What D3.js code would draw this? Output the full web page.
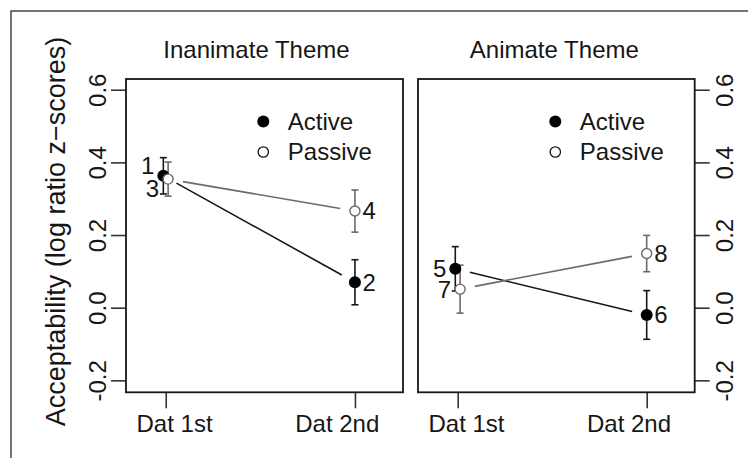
<!DOCTYPE html>
<html><head><meta charset="utf-8">
<script src="https://cdn.jsdelivr.net/npm/d3@7"></script>
<style>
html,body{margin:0;padding:0;background:#fff;}
svg{display:block;font-family:"Liberation Sans",Arial,Helvetica,sans-serif;}
</style></head>
<body>
<svg id="chart" width="748" height="458"></svg>
<script>
// ---------- data ----------
const categories = ["Dat 1st", "Dat 2nd"];
const panelTitles = ["Inanimate Theme", "Animate Theme"];
const seriesNames = ["Active", "Passive"];
const yTicks = [-0.2, 0.0, 0.2, 0.4, 0.6];

const inanimateActive = [0.363, 0.070];
const inanimateActiveSE = [0.050, 0.062];
const inanimatePassive = [0.354, 0.266];
const inanimatePassiveSE = [0.047, 0.058];
const animateActive = [0.107, -0.020];
const animateActiveSE = [0.061, 0.067];
const animatePassive = [0.051, 0.149];
const animatePassiveSE = [0.066, 0.050];

const inanimateActiveLabels = ["1", "2"];
const inanimatePassiveLabels = ["3", "4"];
const animateActiveLabels = ["5", "6"];
const animatePassiveLabels = ["7", "8"];

// ---------- layout ----------
(function () {
const svg = d3.select("#chart");
const plotTop = 79, plotBottom = 392.3;
const panelsBox = [{l: 126, r: 403}, {l: 418, r: 694.7}];
const titleShift = [-8, -2];
const y = d3.scaleLinear().domain([-0.2329, 0.6295]).range([plotBottom, plotTop]);
const ink = "#161616";
const gray = "#6a6a6a";

// outer frame
svg.append("rect").attr("x", 11).attr("y", 11).attr("width", 800).attr("height", 500)
  .attr("fill", "none").attr("stroke", "#3a3a3a").attr("stroke-width", 1.4);

const panels = [
  {title: panelTitles[0],
   series: [
     {name: seriesNames[0], vals: inanimateActive, se: inanimateActiveSE, labels: inanimateActiveLabels},
     {name: seriesNames[1], vals: inanimatePassive, se: inanimatePassiveSE, labels: inanimatePassiveLabels}]},
  {title: panelTitles[1],
   series: [
     {name: seriesNames[0], vals: animateActive, se: animateActiveSE, labels: animateActiveLabels},
     {name: seriesNames[1], vals: animatePassive, se: animatePassiveSE, labels: animatePassiveLabels}]}
];

const dodgeFirst = 2.4; // px offset at first category
const gap = 15;

panels.forEach((p, pi) => {
  const box = panelsBox[pi];
  const x = d3.scaleLinear().domain([0.79, 2.254]).range([box.l, box.r]);
  const g = svg.append("g");

  // title
  g.append("text").attr("x", (box.l + box.r) / 2 + titleShift[pi]).attr("y", 58)
    .attr("text-anchor", "middle").attr("font-size", 24).attr("fill", ink).text(p.title);

  // x axis
  const xa = g.append("g").attr("transform", `translate(0,${plotBottom})`)
    .call(d3.axisBottom(x).tickValues([1, 2]).tickSize(16).tickFormat((d, i) => categories[i]));
  xa.select(".domain").remove();
  xa.selectAll(".tick line").attr("stroke", "#333").attr("stroke-width", 1.6);
  xa.selectAll(".tick text").attr("font-size", 24).attr("fill", ink)
    .attr("font-family", "Liberation Sans, Arial, sans-serif")
    .attr("y", 39.4).attr("dy", 0)
    .attr("dx", (d, i) => i === 0 ? 8.3 : -18.2);

  // y axis
  if (pi === 0) {
    const ya = g.append("g").attr("transform", `translate(${box.l},0)`)
      .call(d3.axisLeft(y).tickValues(yTicks).tickSize(15).tickFormat(d => d.toFixed(1)));
    ya.select(".domain").remove();
    ya.selectAll(".tick line").attr("stroke", "#333").attr("stroke-width", 1.6);
    ya.selectAll(".tick text").attr("font-size", 24).attr("fill", ink)
      .attr("font-family", "Liberation Sans, Arial, sans-serif")
      .attr("transform", "rotate(-90)").attr("x", 0).attr("y", -20).attr("dy", 0)
      .attr("text-anchor", "middle");
  } else {
    const ya = g.append("g").attr("transform", `translate(${box.r},0)`)
      .call(d3.axisRight(y).tickValues(yTicks).tickSize(15).tickFormat(d => d.toFixed(1)));
    ya.select(".domain").remove();
    ya.selectAll(".tick line").attr("stroke", "#333").attr("stroke-width", 1.6);
    ya.selectAll(".tick text").attr("font-size", 24).attr("fill", ink)
      .attr("font-family", "Liberation Sans, Arial, sans-serif")
      .attr("transform", "rotate(-90)").attr("x", 0).attr("y", 38.3).attr("dy", 0)
      .attr("text-anchor", "middle");
  }

  // panel box
  g.append("rect").attr("x", box.l).attr("y", plotTop).attr("width", box.r - box.l).attr("height", plotBottom - plotTop)
    .attr("fill", "none").attr("stroke", ink).attr("stroke-width", 1.8);

  // compute point positions
  const pts = p.series.map((s, si) => s.vals.map((v, ci) => ({
    x: x(ci + 1) + (ci === 0 ? (si === 0 ? -dodgeFirst : dodgeFirst) : 0),
    y: y(v), lo: y(v - s.se[ci]), hi: y(v + s.se[ci]), label: s.labels[ci], ci, si
  })));

  // lines with gaps (type "b")
  pts.forEach((arr, si) => {
    const a = arr[0], b = arr[1];
    const dx = b.x - a.x, dy = b.y - a.y, L = Math.hypot(dx, dy);
    const ux = dx / L, uy = dy / L;
    g.append("line")
      .attr("x1", a.x + ux * gap).attr("y1", a.y + uy * gap)
      .attr("x2", b.x - ux * gap).attr("y2", b.y - uy * gap)
      .attr("stroke", si === 0 ? ink : gray).attr("stroke-width", 1.6);
  });

  // error bars and points
  pts.forEach((arr, si) => {
    const col = si === 0 ? ink : gray;
    arr.forEach(d => {
      g.append("line").attr("x1", d.x).attr("x2", d.x).attr("y1", d.lo).attr("y2", d.hi)
        .attr("stroke", col).attr("stroke-width", 1.6);
      [d.lo, d.hi].forEach(yy => g.append("line").attr("x1", d.x - 3.5).attr("x2", d.x + 3.5)
        .attr("y1", yy).attr("y2", yy).attr("stroke", col).attr("stroke-width", 1.6));
    });
  });
  pts.forEach((arr, si) => {
    arr.forEach(d => {
      if (si === 0) {
        g.append("circle").attr("cx", d.x).attr("cy", d.y).attr("r", 6).attr("fill", "#000");
      } else {
        g.append("circle").attr("cx", d.x).attr("cy", d.y).attr("r", 5)
          .attr("fill", "#fff").attr("stroke", gray).attr("stroke-width", 1.4);
      }
    });
  });

  // point labels
  [0, 1].forEach(ci => {
    const a = pts[0][ci], b = pts[1][ci];
    const close = Math.abs(a.y - b.y) < 12;
    [a, b].forEach((d, si) => {
      const shift = close ? (si === 0 ? -10 : 10) : 0;
      g.append("text")
        .attr("x", ci === 0 ? d.x - 9 : d.x + 7.5)
        .attr("y", d.y + shift)
        .attr("dy", "0.35em")
        .attr("text-anchor", ci === 0 ? "end" : "start")
        .attr("font-size", 24).attr("fill", ink).text(d.label);
    });
  });

  // legend
  const lx = box.l + 137.3;
  const leg = g.append("g");
  leg.append("circle").attr("cx", lx).attr("cy", 121.5).attr("r", 6).attr("fill", "#000");
  leg.append("circle").attr("cx", lx).attr("cy", 152).attr("r", 5.2)
    .attr("fill", "#fff").attr("stroke", ink).attr("stroke-width", 1.3);
  leg.append("text").attr("x", lx + 24.5).attr("y", 121.5).attr("dy", "0.35em")
    .attr("font-size", 24).attr("fill", ink).text(p.series[0].name);
  leg.append("text").attr("x", lx + 24.5).attr("y", 152).attr("dy", "0.35em")
    .attr("font-size", 24).attr("fill", ink).text(p.series[1].name);
});

// y axis title
svg.append("text").attr("transform", "translate(65,231.5) rotate(-90)")
  .attr("text-anchor", "middle").attr("font-size", 27).attr("fill", ink)
  .text("Acceptability (log ratio z\u2212scores)");
})();
</script>
</body></html>
